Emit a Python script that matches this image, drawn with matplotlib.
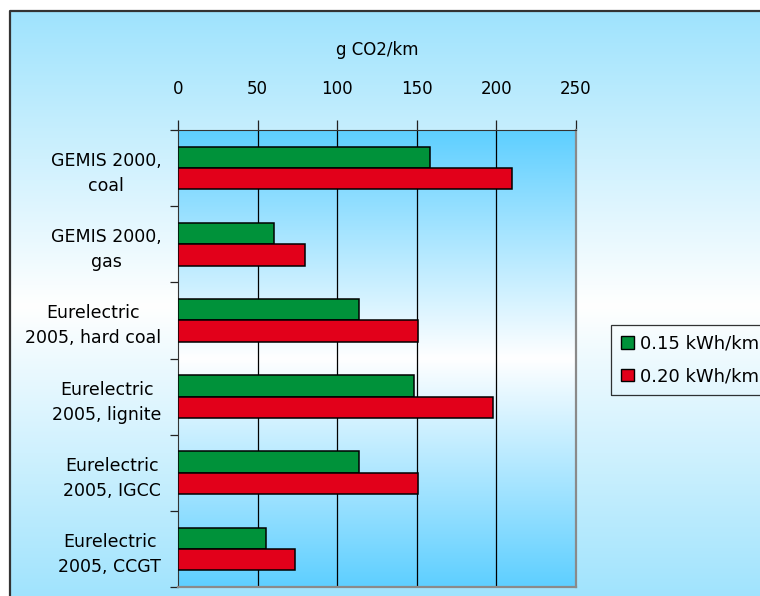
import numpy as np
import matplotlib
matplotlib.use("Agg")
import matplotlib.pyplot as plt
from matplotlib.colors import LinearSegmentedColormap
from matplotlib.patches import Patch

categories = [
    "GEMIS 2000,\ncoal",
    "GEMIS 2000,\ngas",
    "Eurelectric\n2005, hard coal",
    "Eurelectric\n2005, lignite",
    "Eurelectric\n2005, IGCC",
    "Eurelectric\n2005, CCGT",
]
low_cons = [158, 60, 114, 148, 114, 55]      # 0.15 kWh/km
high_cons = [210, 80, 151, 198, 151, 73.5]   # 0.20 kWh/km
series_labels = ["0.15 kWh/km", "0.20 kWh/km"]
xticks = [0, 50, 100, 150, 200, 250]

W, H = 760, 596
fig = plt.figure(figsize=(W / 100, H / 100), dpi=100)
fig.patch.set_facecolor("white")
plt.rcParams["font.family"] = ["DejaVu Sans"]

# background panel with vertical blue-white-blue gradient
bg = fig.add_axes([0, 0, 1, 1], zorder=0)
bg.set_xlim(0, W)
bg.set_ylim(H, 0)
bg.axis("off")
fig_cmap = LinearSegmentedColormap.from_list("figbg", ["#9fe3fd", "#ffffff", "#9fe3fd"])
grad = np.linspace(0, 1, 256).reshape(-1, 1)
bg.imshow(grad, cmap=fig_cmap, extent=[10, W + 5, H + 5, 11], aspect="auto", zorder=0)
bg.plot([10, 10, W + 20], [H + 20, 11, 11], color="#333333", lw=1.6, zorder=1,
        clip_on=True)

# plot area
x0, x1, y0, y1 = 178, 576, 130, 587
ax = fig.add_axes([x0 / W, 1 - y1 / H, (x1 - x0) / W, (y1 - y0) / H], zorder=1)
ax.patch.set_alpha(0)
n = len(categories)
ax.set_xlim(0, 250)
ax.set_ylim(n - 0.5, -0.5)

ax_cmap = LinearSegmentedColormap.from_list("axbg", ["#5ecfff", "#ffffff", "#5ecfff"])
ax.imshow(grad, cmap=ax_cmap, extent=[0, 250, n - 0.5, -0.5], aspect="auto", zorder=0)

for xv in xticks[1:-1]:
    ax.axvline(xv, color="black", lw=0.9, zorder=1)

pos = np.arange(n)
h = 0.28
ax.barh(pos - h / 2, low_cons, height=h, color="#00923a", edgecolor="black",
        lw=1.1, label=series_labels[0], zorder=3)
ax.barh(pos + h / 2, high_cons, height=h, color="#e2001a", edgecolor="black",
        lw=1.1, label=series_labels[1], zorder=3)

# axes styling
ax.xaxis.tick_top()
ax.xaxis.set_label_position("top")
ax.set_xticks(xticks)
ax.set_xticklabels([str(t) for t in xticks], fontsize=12)
ax.tick_params(axis="x", direction="out", length=7, width=0.9, pad=16, color="#222222")
ax.set_xlabel("g CO2/km", fontsize=12, labelpad=18)

ax.set_yticks(np.arange(-0.5, n, 1.0))
ax.set_yticklabels([])
ax.set_yticks(pos, minor=True)
ax.set_yticklabels(categories, minor=True, fontsize=12.5, linespacing=1.5,
                   multialignment="center")
ax.tick_params(axis="y", which="major", direction="out", length=6, width=0.9,
               color="#222222")
ax.tick_params(axis="y", which="minor", length=0, pad=12)

ax.spines["top"].set_color("#333333")
ax.spines["left"].set_color("#333333")
ax.spines["right"].set_color("#8a8a8a")
ax.spines["bottom"].set_color("#8a8a8a")
ax.spines["right"].set_linewidth(1.6)
ax.spines["bottom"].set_linewidth(1.6)

handles = [Patch(facecolor="#00923a", edgecolor="black"),
           Patch(facecolor="#e2001a", edgecolor="black")]
leg = fig.legend(handles, series_labels, loc="upper left",
                 bbox_to_anchor=(611 / W, 1 - 325 / H), fontsize=13,
                 frameon=True, fancybox=False, handlelength=0.7, handleheight=0.7,
                 handletextpad=0.35, labelspacing=0.8, borderpad=0.55,
                 borderaxespad=0)
leg.get_frame().set_edgecolor("black")
leg.get_frame().set_linewidth(0.9)
leg.get_frame().set_facecolor("none")

fig.savefig("out.png", dpi=100)
